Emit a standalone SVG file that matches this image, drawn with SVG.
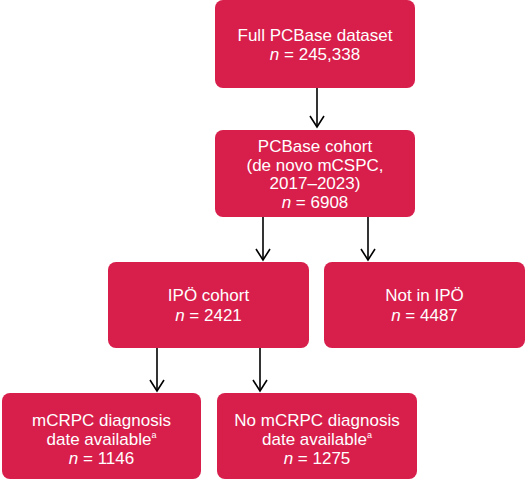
<svg xmlns="http://www.w3.org/2000/svg" width="526" height="480" viewBox="0 0 526 480">
<style>
.box{fill:#D81E4B;}
.t{font-family:"Liberation Sans",Arial,sans-serif;font-size:17px;fill:#fff;text-anchor:middle;}
.i{font-style:italic;}
.c{stroke:#000;stroke-width:1.6;fill:none;}
</style>
<defs>
<marker id="ah" viewBox="0 0 16 14" refX="8" refY="12" markerWidth="16" markerHeight="14" markerUnits="userSpaceOnUse" orient="0" overflow="visible">
<path d="M1,1 L8,12 L15,1" stroke="#000" stroke-width="1.6" fill="none"/>
</marker>
</defs>
<rect width="526" height="480" fill="#fff"/>
<g id="connectors">
<path class="c" d="M317,88 V127" marker-end="url(#ah)"/>
<path class="c" d="M263,217 V260" marker-end="url(#ah)"/>
<path class="c" d="M368,217 V260" marker-end="url(#ah)"/>
<path class="c" d="M157,348 V391" marker-end="url(#ah)"/>
<path class="c" d="M260,348 V391" marker-end="url(#ah)"/>
</g>
<g id="n1">
<rect class="box" x="215" y="0" width="200" height="88" rx="8"/>
<text class="t" x="315" y="41">Full PCBase dataset</text>
<text class="t" x="315" y="60"><tspan class="i">n</tspan> = 245,338</text>
</g>
<g id="n2">
<rect class="box" x="215" y="130" width="200" height="87" rx="8"/>
<text class="t" x="315" y="152">PCBase cohort</text>
<text class="t" x="315" y="170.5">(de novo mCSPC,</text>
<text class="t" x="315" y="189">2017–2023)</text>
<text class="t" x="315" y="207.5"><tspan class="i">n</tspan> = 6908</text>
</g>
<g id="n3">
<rect class="box" x="108" y="262" width="201" height="86" rx="8"/>
<text class="t" x="208.5" y="301">IPÖ cohort</text>
<text class="t" x="208.5" y="321"><tspan class="i">n</tspan> = 2421</text>
</g>
<g id="n4">
<rect class="box" x="324" y="262" width="201" height="86" rx="8"/>
<text class="t" x="424.5" y="301">Not in IPÖ</text>
<text class="t" x="424.5" y="321"><tspan class="i">n</tspan> = 4487</text>
</g>
<g id="n5">
<rect class="box" x="2" y="393" width="199" height="86" rx="8"/>
<text class="t" x="101.5" y="426">mCRPC diagnosis</text>
<text class="t" x="101.5" y="445">date available<tspan font-size="9" dy="-7">a</tspan></text>
<text class="t" x="101.5" y="464"><tspan class="i">n</tspan> = 1146</text>
</g>
<g id="n6">
<rect class="box" x="217" y="393" width="200" height="86" rx="8"/>
<text class="t" x="317" y="426">No mCRPC diagnosis</text>
<text class="t" x="317" y="445">date available<tspan font-size="9" dy="-7">a</tspan></text>
<text class="t" x="317" y="464"><tspan class="i">n</tspan> = 1275</text>
</g>
</svg>
